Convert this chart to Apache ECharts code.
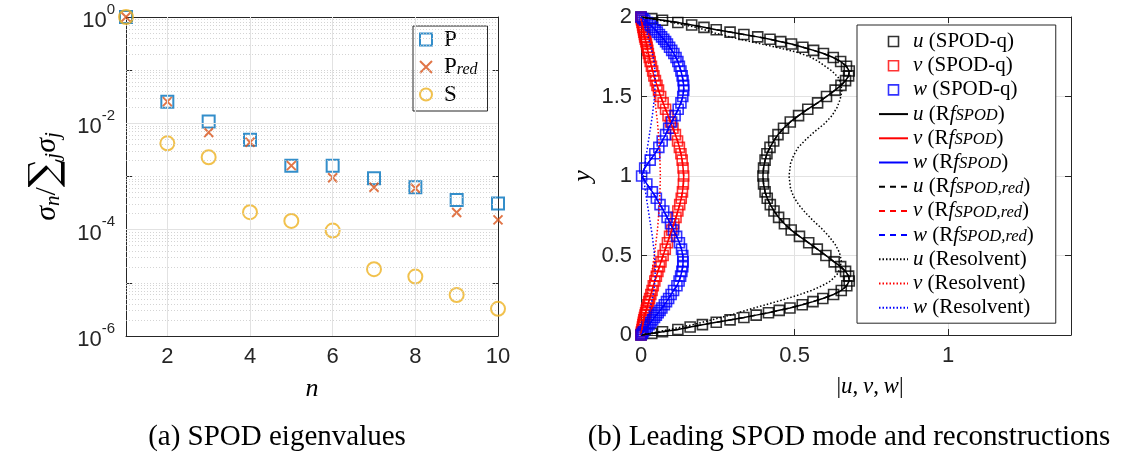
<!DOCTYPE html>
<html>
<head>
<meta charset="utf-8">
<script src="https://cdn.jsdelivr.net/npm/echarts@6/dist/echarts.min.js"></script>
<style>
  html, body { margin: 0; padding: 0; background: #fff; }
  #c { width: 1127px; height: 454px; }
</style>
</head>
<body>
<div id="c"></div>
<script>
// ---------- (a) SPOD eigenvalue spectra ----------
const modeIndex = [1, 2, 3, 4, 5, 6, 7, 8, 9, 10];
const sigmaP    = [1, 0.0256, 0.0108, 0.0049, 0.0016, 0.0016, 0.00093, 0.00063, 0.00036, 0.00031];
const sigmaPred = [1, 0.0256, 0.0067, 0.0044, 0.0016, 0.00095, 0.00063, 0.0006, 0.00021, 0.000153];
const sigmaS    = [1, 0.0042, 0.0023, 0.000213, 0.000146, 0.0000962, 0.0000181, 0.0000131, 0.0000059, 0.00000325];
const nTicks    = [2, 4, 6, 8, 10];

// ---------- (b) leading mode profiles across the channel ----------
const yGrid = [
  0, 0.01, 0.02, 0.035, 0.05, 0.065, 0.08, 0.095, 0.11, 0.125, 0.14, 0.155, 0.17, 0.19, 0.21, 0.23, 0.255, 0.28,
  0.31, 0.34, 0.37, 0.40, 0.43, 0.46, 0.50, 0.54, 0.58, 0.62, 0.66, 0.70, 0.74, 0.78, 0.82, 0.86, 0.90, 0.95, 1.0,
  1.05, 1.10, 1.14, 1.18, 1.22, 1.26, 1.30, 1.34, 1.38, 1.42, 1.46, 1.50, 1.54, 1.57, 1.60, 1.63, 1.66, 1.69,
  1.72, 1.745, 1.77, 1.79, 1.81, 1.83, 1.845, 1.86, 1.875, 1.89, 1.905, 1.92, 1.935, 1.95, 1.965, 1.98, 1.99, 2.0
];
const uMode = [
  0, 0.035, 0.07, 0.12, 0.16, 0.2, 0.245, 0.29, 0.335, 0.375, 0.415, 0.45, 0.485, 0.525, 0.56, 0.592, 0.627, 0.652,
  0.67, 0.678, 0.676, 0.666, 0.65, 0.629, 0.602, 0.574, 0.546, 0.516, 0.489, 0.467, 0.448, 0.433, 0.421, 0.411, 0.404, 0.399, 0.397,
  0.399, 0.404, 0.41, 0.42, 0.432, 0.446, 0.464, 0.486, 0.513, 0.543, 0.575, 0.604, 0.632, 0.651, 0.666, 0.676, 0.678, 0.669,
  0.65, 0.626, 0.594, 0.562, 0.527, 0.49, 0.455, 0.42, 0.38, 0.335, 0.29, 0.245, 0.205, 0.165, 0.12, 0.07, 0.035, 0
];
const vMode = [
  0, 0.0008, 0.0016, 0.003, 0.0045, 0.006, 0.0075, 0.009, 0.011, 0.013, 0.015, 0.017, 0.019, 0.022, 0.025, 0.028, 0.032, 0.036,
  0.04, 0.045, 0.05, 0.055, 0.06, 0.065, 0.072, 0.079, 0.086, 0.093, 0.1, 0.107, 0.114, 0.12, 0.126, 0.131, 0.135, 0.138, 0.139,
  0.137, 0.134, 0.13, 0.125, 0.119, 0.112, 0.104, 0.096, 0.088, 0.08, 0.072, 0.064, 0.057, 0.052, 0.047, 0.042, 0.038, 0.034,
  0.03, 0.027, 0.024, 0.022, 0.02, 0.018, 0.016, 0.014, 0.012, 0.011, 0.009, 0.008, 0.006, 0.005, 0.003, 0.002, 0.001, 0
];
const wMode = [
  0, 0.004, 0.008, 0.014, 0.02, 0.026, 0.032, 0.038, 0.044, 0.05, 0.056, 0.062, 0.068, 0.076, 0.083, 0.09, 0.098, 0.106,
  0.117, 0.124, 0.129, 0.133, 0.136, 0.137, 0.136, 0.132, 0.125, 0.116, 0.106, 0.096, 0.085, 0.074, 0.062, 0.05, 0.037, 0.019, 0.002,
  0.012, 0.03, 0.045, 0.058, 0.069, 0.08, 0.09, 0.1, 0.111, 0.121, 0.13, 0.136, 0.139, 0.139, 0.137, 0.134, 0.13, 0.125,
  0.12, 0.114, 0.107, 0.1, 0.093, 0.086, 0.08, 0.074, 0.067, 0.06, 0.053, 0.046, 0.038, 0.03, 0.021, 0.012, 0.006, 0
];

// resolvent prediction, on its own grid
const yRes = [
  0, 0.02, 0.045, 0.07, 0.1, 0.13, 0.16, 0.19, 0.22, 0.25, 0.28, 0.31, 0.34, 0.38, 0.42, 0.47, 0.52, 0.57, 0.62,
  0.67, 0.72, 0.77, 0.82, 0.87, 0.92, 1.0,
  1.08, 1.13, 1.18, 1.23, 1.28, 1.33, 1.38, 1.43, 1.48, 1.53, 1.58, 1.62, 1.66, 1.69, 1.72, 1.75, 1.78, 1.81, 1.84,
  1.87, 1.9, 1.93, 1.955, 1.98, 2.0
];
const uRes = [
  0, 0.055, 0.12, 0.18, 0.24, 0.3, 0.35, 0.405, 0.46, 0.51, 0.555, 0.59, 0.617, 0.638, 0.649, 0.652, 0.646, 0.632, 0.612,
  0.588, 0.56, 0.535, 0.513, 0.497, 0.487, 0.482,
  0.487, 0.497, 0.512, 0.537, 0.566, 0.598, 0.622, 0.638, 0.648, 0.654, 0.651, 0.642, 0.622, 0.6, 0.578, 0.55, 0.505, 0.44, 0.37,
  0.3, 0.24, 0.19, 0.13, 0.06, 0
];
const vRes = [
  0, 0.001, 0.003, 0.005, 0.007, 0.01, 0.013, 0.015, 0.018, 0.021, 0.024, 0.027, 0.03, 0.033, 0.037, 0.041, 0.045, 0.048, 0.051,
  0.054, 0.056, 0.058, 0.06, 0.061, 0.062, 0.063,
  0.062, 0.061, 0.06, 0.058, 0.056, 0.054, 0.051, 0.048, 0.045, 0.041, 0.037, 0.033, 0.03, 0.027, 0.024, 0.021, 0.018, 0.015, 0.013,
  0.01, 0.007, 0.005, 0.003, 0.001, 0
];
const wRes = [
  0, 0.004, 0.009, 0.014, 0.019, 0.024, 0.028, 0.032, 0.036, 0.039, 0.042, 0.044, 0.045, 0.046, 0.046, 0.045, 0.043, 0.04, 0.037,
  0.033, 0.029, 0.025, 0.021, 0.017, 0.013, 0.008,
  0.013, 0.017, 0.021, 0.025, 0.029, 0.033, 0.037, 0.04, 0.043, 0.045, 0.046, 0.046, 0.045, 0.044, 0.042, 0.039, 0.036, 0.032, 0.028,
  0.024, 0.019, 0.014, 0.009, 0.004, 0
];

// ---------- drawing ----------
const AX = '#262626';
const SERIF = 'Liberation Serif';
const SANS = 'Liberation Sans';
const NONE = 'rgba(0,0,0,0)';
const SQUARE = 'path://M0,0H10V10H0Z';
const CROSS = 'path://M0,0L10,10M10,0L0,10';
const GRID_MAJOR = '#e2e2e2';
const CAPTION_FONT = '29px "Liberation Serif"';

const pairs = (xs, ys) => xs.map((x, i) => [x, ys[i]]);

// log-decade grid of panel (a): dotted sub-decades, solid at labelled decades
const minorGrid = [];
for (let k = -6; k <= -1; k++) {
  for (let m = 2; m <= 9; m++) minorGrid.push(m * Math.pow(10, k));
}
[1e-1, 1e-3, 1e-5].forEach(v => minorGrid.push(v));
const gridMarks = [];
minorGrid.forEach(v => gridMarks.push({ yAxis: v, lineStyle: { color: '#c9c9c9', width: 0.8, type: [1, 2] } }));
[1e-2, 1e-4].forEach(v => gridMarks.push({ yAxis: v, lineStyle: { color: GRID_MAJOR, width: 1, type: 'solid' } }));
[2, 4, 6, 8].forEach(v => gridMarks.push({ xAxis: v, lineStyle: { color: GRID_MAJOR, width: 1, type: 'solid' } }));

const tickLabel = { color: AX, fontFamily: SANS, fontSize: 22 };
const axisLine = { show: true, onZero: false, lineStyle: { color: AX, width: 1 } };
const inTick = { show: true, inside: true, length: 6, lineStyle: { color: AX, width: 1 } };

const richText = {
  m: { fontFamily: SERIF, fontStyle: 'italic', fontSize: 21, lineHeight: 20, color: '#000' },
  r: { fontFamily: SERIF, fontSize: 21, lineHeight: 20, color: '#000' },
  s: { fontFamily: SERIF, fontStyle: 'italic', fontSize: 16.5, lineHeight: 8, verticalAlign: 'bottom', color: '#000' }
};

const expLabel = function (v) {
  const e = Math.round(Math.log10(v));
  if (e % 2 !== 0) return '';
  return '{b|10}{sup|' + e + '}';
};

const halfStep = v => (Math.abs(v * 2 - Math.round(v * 2)) < 1e-9 ? String(v) : '');

function legendB(name) {
  const c = name[0];
  const k = name.slice(3, -1);
  if (k === 'SPOD-q' || k === 'Resolvent') return '{m|' + c + '}{r| (' + k + ')}';
  const sub = k.split(' ')[1];
  return '{m|' + c + '}{r| (R}{m|f}{s|' + sub + '}{r|)}';
}

const profileNames = [
  'u (SPOD-q)', 'v (SPOD-q)', 'w (SPOD-q)',
  'u (Rf SPOD)', 'v (Rf SPOD)', 'w (Rf SPOD)',
  'u (Rf SPOD,red)', 'v (Rf SPOD,red)', 'w (Rf SPOD,red)',
  'u (Resolvent)', 'v (Resolvent)', 'w (Resolvent)'
];
const compColor = { u: '#000000', v: '#ff0000', w: '#0000ff' };
const modeData = { u: uMode, v: vMode, w: wMode };
const resData = { u: uRes, v: vRes, w: wRes };

const seriesB = [];
['u', 'v', 'w'].forEach(c => seriesB.push({
  name: c + ' (SPOD-q)', type: 'scatter', xAxisIndex: 2, yAxisIndex: 2,
  symbol: SQUARE, symbolSize: 10,
  itemStyle: { color: NONE, borderColor: compColor[c], borderWidth: 1.6 },
  data: pairs(modeData[c], yGrid)
}));
['u', 'v', 'w'].forEach(c => seriesB.push({
  name: c + ' (Rf SPOD)', type: 'line', xAxisIndex: 2, yAxisIndex: 2, symbol: 'none',
  lineStyle: { color: compColor[c], width: 1.5, type: 'solid' }, itemStyle: { color: compColor[c] },
  data: pairs(modeData[c], yGrid)
}));
['u', 'v', 'w'].forEach(c => seriesB.push({
  name: c + ' (Rf SPOD,red)', type: 'line', xAxisIndex: 2, yAxisIndex: 2, symbol: 'none',
  lineStyle: { color: compColor[c], width: 1.5, type: [6, 5] }, itemStyle: { color: compColor[c] },
  data: pairs(modeData[c], yGrid)
}));
['u', 'v', 'w'].forEach(c => seriesB.push({
  name: c + ' (Resolvent)', type: 'line', xAxisIndex: 2, yAxisIndex: 2, symbol: 'none',
  lineStyle: { color: compColor[c], width: 1.5, type: [1.5, 2] }, itemStyle: { color: compColor[c] },
  data: pairs(resData[c], yRes)
}));

// legend entries: squares for the mode, plain line samples for the reconstructions
const legendBData = profileNames.map(n => (n.indexOf('SPOD-q') > 0
  ? { name: n, icon: SQUARE }
  : { name: n, itemStyle: { color: NONE, borderColor: NONE, borderWidth: 0 } }));

const option = {
  animation: false,
  backgroundColor: '#fff',
  grid: [
    { left: 126, top: 17, width: 372, height: 319, containLabel: false },
    { left: 641, top: 17, width: 430, height: 318, containLabel: false }
  ],
  xAxis: [
    {
      gridIndex: 0, type: 'value', min: 1, max: 10,
      name: 'n', nameLocation: 'middle', nameGap: 40,
      nameTextStyle: { fontFamily: SERIF, fontStyle: 'italic', fontSize: 26, color: '#000' },
      axisLine: axisLine, axisTick: Object.assign({ customValues: nTicks }, inTick),
      axisLabel: Object.assign({ customValues: nTicks, margin: 10 }, tickLabel),
      splitLine: { show: false }
    },
    {
      gridIndex: 0, type: 'value', min: 1, max: 10, position: 'top',
      axisLine: axisLine, axisTick: Object.assign({ customValues: nTicks }, inTick),
      axisLabel: { show: false }, splitLine: { show: false }
    },
    {
      gridIndex: 1, type: 'value', min: 0, max: 1.4, interval: 0.5,
      name: '{r||}{m|u}{r|,\u2009}{m|v}{r|,\u2009}{m|w}{r||}', nameLocation: 'middle', nameGap: 40,
      nameTextStyle: {
        padding: [0, 0, 0, 28],
        rich: {
          m: { fontFamily: SERIF, fontStyle: 'italic', fontSize: 23, color: '#000' },
          r: { fontFamily: SERIF, fontSize: 23, color: '#000' }
        }
      },
      axisLine: axisLine, axisTick: inTick,
      axisLabel: Object.assign({ formatter: halfStep, margin: 10 }, tickLabel),
      splitLine: { show: true, lineStyle: { color: GRID_MAJOR, width: 1 } }
    },
    {
      gridIndex: 1, type: 'value', min: 0, max: 1.4, interval: 0.5, position: 'top',
      axisLine: axisLine, axisTick: inTick, axisLabel: { show: false }, splitLine: { show: false }
    }
  ],
  yAxis: [
    {
      gridIndex: 0, type: 'log', logBase: 10, min: 1e-6, max: 1,
      name: '{m|σ}{sn|n}{r|/}{g|∑}{sj|j}{m|σ}{sn|j}', nameLocation: 'middle', nameGap: 62,
      nameTextStyle: {
        rich: {
          m: { fontFamily: SERIF, fontStyle: 'italic', fontSize: 30, lineHeight: 34, color: '#000' },
          r: { fontFamily: SERIF, fontSize: 30, lineHeight: 34, color: '#000' },
          g: { fontFamily: 'DejaVu Serif', fontSize: 40, lineHeight: 34, color: '#000' },
          sn: { fontFamily: SERIF, fontStyle: 'italic', fontSize: 21, lineHeight: 14, verticalAlign: 'bottom', color: '#000' },
          sj: { fontFamily: SERIF, fontStyle: 'italic', fontSize: 21, lineHeight: 6, verticalAlign: 'bottom', color: '#000' }
        }
      },
      axisLine: axisLine, axisTick: inTick,
      axisLabel: {
        formatter: expLabel, margin: 11,
        rich: {
          b: { fontFamily: SANS, fontSize: 22, lineHeight: 30, verticalAlign: 'bottom', color: AX },
          sup: { fontFamily: SANS, fontSize: 15, lineHeight: 16, verticalAlign: 'top', color: AX }
        }
      },
      splitLine: { show: false }, minorSplitLine: { show: false }
    },
    {
      gridIndex: 0, type: 'log', logBase: 10, min: 1e-6, max: 1, position: 'right',
      axisLine: axisLine, axisTick: inTick, axisLabel: { show: false }, splitLine: { show: false }
    },
    {
      gridIndex: 1, type: 'value', min: 0, max: 2, interval: 0.5,
      name: 'y', nameLocation: 'middle', nameGap: 45,
      nameTextStyle: { fontFamily: SERIF, fontStyle: 'italic', fontSize: 26, color: '#000' },
      axisLine: axisLine, axisTick: inTick,
      axisLabel: Object.assign({ formatter: halfStep, margin: 9 }, tickLabel),
      splitLine: { show: true, lineStyle: { color: GRID_MAJOR, width: 1 } }
    },
    {
      gridIndex: 1, type: 'value', min: 0, max: 2, interval: 0.5, position: 'right',
      axisLine: axisLine, axisTick: inTick, axisLabel: { show: false }, splitLine: { show: false }
    }
  ],
  legend: [
    {
      orient: 'vertical', left: 413, top: 26,
      padding: [2, 10, 5, 6], itemGap: 4.5, itemWidth: 26, itemHeight: 12,
      backgroundColor: '#fff', borderColor: AX, borderWidth: 1, borderRadius: 0,
      itemStyle: { borderWidth: 2 },
      data: [
        { name: 'P', icon: SQUARE },
        { name: 'Pred', icon: CROSS },
        { name: 'S', icon: 'circle' }
      ],
      formatter: n => (n === 'Pred' ? '{r|P}{s|red}' : '{r|' + n + '}'),
      textStyle: {
        rich: {
          r: { fontFamily: SERIF, fontSize: 23, lineHeight: 22, color: '#000' },
          s: { fontFamily: SERIF, fontStyle: 'italic', fontSize: 16, lineHeight: 8, verticalAlign: 'bottom', color: '#000' }
        }
      }
    },
    {
      orient: 'vertical', left: 857, top: 25,
      padding: [6, 22, 5, 21], itemGap: 3.2, itemWidth: 29, itemHeight: 10,
      backgroundColor: '#fff', borderColor: AX, borderWidth: 1, borderRadius: 0,
      itemStyle: { borderWidth: 1.6 },
      data: legendBData,
      formatter: legendB,
      textStyle: { rich: richText }
    }
  ],
  graphic: [
    {
      type: 'text', x: 277, y: 437,
      style: { text: '(a) SPOD eigenvalues', font: CAPTION_FONT, fill: '#000', align: 'center', verticalAlign: 'middle' }
    },
    {
      type: 'text', x: 849, y: 437,
      style: { text: '(b) Leading SPOD mode and reconstructions', font: CAPTION_FONT, fill: '#000', align: 'center', verticalAlign: 'middle' }
    }
  ],
  series: [
    {
      name: 'grid-a', type: 'line', xAxisIndex: 0, yAxisIndex: 0, data: [], silent: true, z: 0,
      markLine: {
        silent: true, precision: 20, symbol: ['none', 'none'],
        label: { show: false }, animation: false, data: gridMarks
      }
    },
    {
      name: 'P', type: 'scatter', xAxisIndex: 0, yAxisIndex: 0,
      symbol: SQUARE, symbolSize: 12,
      itemStyle: { color: NONE, borderColor: '#0072BD', borderWidth: 2 },
      data: pairs(modeIndex, sigmaP)
    },
    {
      name: 'Pred', type: 'scatter', xAxisIndex: 0, yAxisIndex: 0,
      symbol: CROSS, symbolSize: 9,
      itemStyle: { color: NONE, borderColor: '#D95319', borderWidth: 2 },
      data: pairs(modeIndex, sigmaPred)
    },
    {
      name: 'S', type: 'scatter', xAxisIndex: 0, yAxisIndex: 0,
      symbol: 'circle', symbolSize: 14,
      itemStyle: { color: NONE, borderColor: '#EDB120', borderWidth: 2 },
      data: pairs(modeIndex, sigmaS)
    }
  ].concat(seriesB)
};

const chart = echarts.init(document.getElementById('c'));
chart.setOption(option);
</script>
</body>
</html>
